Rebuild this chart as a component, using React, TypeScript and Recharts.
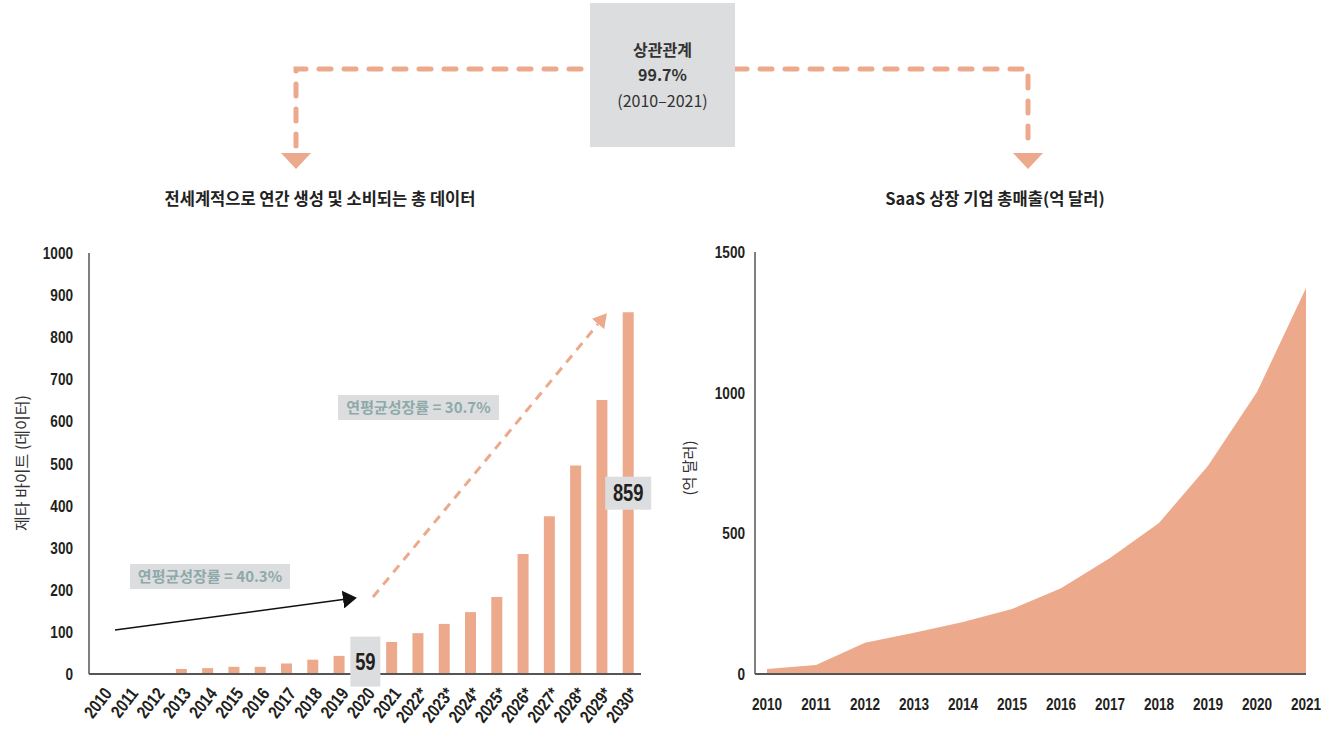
import React from "react";
import { BarChart, Bar, XAxis, YAxis, AreaChart, Area, LabelList } from "recharts";

const dataYears = ["2010","2011","2012","2013","2014","2015","2016","2017","2018","2019","2020","2021","2022*","2023*","2024*","2025*","2026*","2027*","2028*","2029*","2030*"];
const dataZettabytes: (number | null)[] = [null, null, null, 12, 14, 17, 17, 25, 34, 43, 59, 76, 97, 119, 147, 183, 285, 375, 495, 651, 859];
const dataTicks = [0, 100, 200, 300, 400, 500, 600, 700, 800, 900, 1000];
const labelledYears = ["2020", "2030*"];

const saasYears = ["2010","2011","2012","2013","2014","2015","2016","2017","2018","2019","2020","2021"];
const saasRevenue = [18, 32, 111, 147, 185, 231, 305, 412, 537, 740, 1002, 1372];
const saasTicks = [0, 500, 1000, 1500];

const SALMON = "#eda98b";
const GRAYBOX = "#dcdddf";
const TEAL = "#8ea9a9";
const DARK = "#231f20";
const NUMF = "'Liberation Sans', Arial, sans-serif";
const KR = "'Noto Sans CJK KR', 'Noto Sans', sans-serif";
const SQ = 0.8;

const barData = dataYears.map((y, i) => ({ year: y, value: dataZettabytes[i] }));
const areaData = saasYears.map((y, i) => ({ year: y, value: saasRevenue[i] }));

const RotTick = (props: any) => {
  const { x, y, payload } = props;
  return (
    <g transform={`translate(${x + 6},${y + 8}) rotate(-52) scale(0.82,1)`}>
      <text textAnchor="end" dy={6} fill={DARK} fontFamily={NUMF} fontWeight="bold" fontSize={18}>
        {payload.value}
      </text>
    </g>
  );
};

const YTick = (props: any) => {
  const { x, y, payload } = props;
  return (
    <text transform={`translate(${x},${y}) scale(${SQ},1)`} textAnchor="end" dy={6} fill={DARK} fontFamily={NUMF} fontWeight="bold" fontSize={17}>
      {payload.value}
    </text>
  );
};

const XTick = (props: any) => {
  const { x, y, payload } = props;
  return (
    <text transform={`translate(${x},${y}) scale(${SQ},1)`} textAnchor="middle" dy={12} fill={DARK} fontFamily={NUMF} fontWeight="bold" fontSize={17}>
      {payload.value}
    </text>
  );
};

const BoxLabel = (props: any) => {
  const { x, y, width, height, value } = props;
  const year = String(value);
  if (!labelledYears.includes(year)) return null;
  const idx = dataYears.indexOf(year);
  const cx = x + width / 2;
  const cy = y + height / 2;
  const w = year === "2020" ? 30 : 46;
  const h = year === "2020" ? 50 : 33;
  return (
    <g>
      <rect x={cx - w / 2} y={cy - h / 2} width={w} height={h} fill={GRAYBOX} />
      <text transform={`translate(${cx},${cy}) scale(${SQ},1)`} dy={8} textAnchor="middle" fill={DARK} fontFamily={NUMF} fontWeight="bold" fontSize={23}>
        {dataZettabytes[idx]}
      </text>
    </g>
  );
};

export default function App() {
  return (
    <div style={{ position: "absolute", left: 0, top: 0, width: 1322, height: 730, background: "#fff", overflow: "hidden" }}>
      {/* Top connector diagram */}
      <svg width={1322} height={230} style={{ position: "absolute", left: 0, top: 0 }}>
        <path d="M296,146 V69 H590" fill="none" stroke={SALMON} strokeWidth={5} strokeDasharray="12 13" strokeLinecap="round" />
        <path d="M735,69 H1028 V146" fill="none" stroke={SALMON} strokeWidth={5} strokeDasharray="12 13" strokeLinecap="round" />
        <polygon points="281,153 311,153 296,169" fill={SALMON} />
        <polygon points="1013,153 1043,153 1028,169" fill={SALMON} />
        <rect x={590} y={3} width={145} height={144} fill={GRAYBOX} />
        <text x={662.5} y={56} textAnchor="middle" fontFamily={KR} fontWeight="bold" fontSize={16} fill="#333">상관관계</text>
        <text x={662.5} y={81} textAnchor="middle" fontFamily={KR} fontWeight="bold" fontSize={16} fill="#333">99.7%</text>
        <text x={662.5} y={107} textAnchor="middle" fontFamily={KR} fontSize={16} fill="#333">(2010–2021)</text>
        <text x={320} y={205} textAnchor="middle" fontFamily={KR} fontWeight="bold" fontSize={16.5} fill="#222">전세계적으로 연간 생성 및 소비되는 총 데이터</text>
        <text x={995} y={205} textAnchor="middle" fontFamily={KR} fontWeight="bold" fontSize={16.5} fill="#222">SaaS 상장 기업 총매출(억 달러)</text>
      </svg>

      {/* Left chart */}
      <div style={{ position: "absolute", left: 0, top: 0 }}>
        <BarChart width={660} height={730} data={barData} margin={{ top: 253, right: 19, left: 29, bottom: 6 }} barCategoryGap={0}>
          <XAxis dataKey="year" interval={0} tickLine={false} axisLine={{ stroke: "#555", strokeWidth: 2 }} tick={<RotTick />} height={50} />
          <YAxis domain={[0, 1000]} ticks={dataTicks} interval={0} width={60} tickLine={false} tickSize={0} tickMargin={16}
            axisLine={{ stroke: "#555", strokeWidth: 1.5 }} tick={<YTick />} />
          <Bar dataKey="value" fill={SALMON} barSize={11} isAnimationActive={false}>
            <LabelList dataKey="year" content={<BoxLabel />} />
          </Bar>
        </BarChart>
      </div>
      <svg width={660} height={730} style={{ position: "absolute", left: 0, top: 0, pointerEvents: "none" }}>
        <defs>
          <marker id="ahBlack" markerWidth={14} markerHeight={18} refX={0} refY={9} orient="auto" markerUnits="userSpaceOnUse">
            <path d="M0,0 L14,9 L0,18 z" fill="#111" />
          </marker>
          <marker id="ahSalmon" markerWidth={14} markerHeight={16} refX={0} refY={8} orient="auto" markerUnits="userSpaceOnUse">
            <path d="M0,0 L14,8 L0,16 z" fill={SALMON} />
          </marker>
        </defs>
        <text x={22} y={463} transform="rotate(-90 22 463)" textAnchor="middle" dy={6} fontFamily={KR} fontSize={16} fill="#333">제타 바이트 (데이터)</text>
        <line x1={115} y1={630} x2={343} y2={599.5} stroke="#111" strokeWidth={1.5} markerEnd="url(#ahBlack)" />
        <line x1={373} y1={597} x2={598} y2={324} stroke={SALMON} strokeWidth={3} strokeDasharray="9 7" markerEnd="url(#ahSalmon)" />
        <rect x={130} y={564} width={160} height={25} fill={GRAYBOX} />
        <text x={210} y={582} textAnchor="middle" fontFamily={KR} fontWeight="bold" fontSize={15} fill={TEAL}>연평균성장률  =  40.3%</text>
        <rect x={338} y={395} width={161} height={25} fill={GRAYBOX} />
        <text x={418.5} y={413} textAnchor="middle" fontFamily={KR} fontWeight="bold" fontSize={15} fill={TEAL}>연평균성장률  =  30.7%</text>
      </svg>

      {/* Right chart */}
      <div style={{ position: "absolute", left: 660, top: 0 }}>
        <AreaChart width={662} height={730} data={areaData} margin={{ top: 252, right: 16, left: 35, bottom: 16 }}>
          <XAxis dataKey="year" interval={0} padding={{ left: 12, right: 0 }} tickLine={false} tickSize={0} tickMargin={24}
            axisLine={{ stroke: "#555", strokeWidth: 2 }} height={40} tick={<XTick />} />
          <YAxis domain={[0, 1500]} ticks={saasTicks} interval={0} width={60} tickLine={false} tickSize={0} tickMargin={10}
            axisLine={{ stroke: "#555", strokeWidth: 1.5 }} tick={<YTick />} />
          <Area type="linear" dataKey="value" stroke="none" fill={SALMON} fillOpacity={1} isAnimationActive={false} />
        </AreaChart>
      </div>
      <svg width={60} height={730} style={{ position: "absolute", left: 660, top: 0, pointerEvents: "none" }}>
        <text x={30} y={468} transform="rotate(-90 30 468)" textAnchor="middle" dy={5} fontFamily={KR} fontSize={15} fill="#333">(억 달러)</text>
      </svg>
    </div>
  );
}
